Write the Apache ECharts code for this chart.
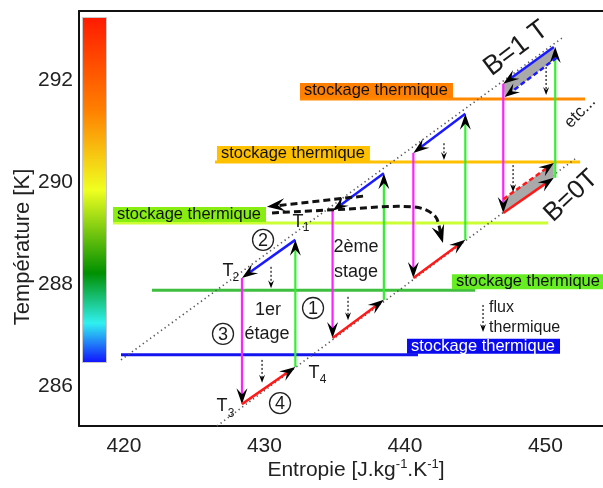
<!DOCTYPE html>
<html><head><meta charset="utf-8">
<script src="https://cdn.jsdelivr.net/npm/echarts@6/dist/echarts.min.js"></script>
<style>html,body{margin:0;padding:0;background:#fff}#c{width:603px;height:488px}</style>
</head><body><div id="c"></div>
<script>
// ---------- axes ----------
const xTicks = [420, 430, 440, 450];
const yTicks = [286, 288, 290, 292];
const xRange = [416.80, 454.10];
const yRange = [285.21, 293.37];

// ---------- AMR cycle segments [S1, T1, S2, T2] ----------
const redSeg = [
  [428.4, 285.64, 432.2, 286.37],
  [434.85, 286.94, 438.5, 287.69],
  [440.6, 288.12, 444.3, 288.87],
  [447.0, 289.40, 450.6, 290.09]
];
const greenSeg = [
  [432.2, 286.37, 432.2, 288.87],
  [438.5, 287.69, 438.5, 290.18],
  [444.3, 288.87, 444.3, 291.35],
  [450.7, 290.09, 450.7, 292.66]
];
const blueSeg = [
  [432.2, 288.87, 428.4, 288.12],
  [438.5, 290.18, 434.85, 289.44],
  [444.3, 291.35, 440.6, 290.58],
  [450.6, 292.66, 447.0, 291.94]
];
const magentaSeg = [
  [428.4, 288.12, 428.4, 285.64],
  [434.85, 289.44, 434.85, 286.94],
  [440.6, 290.58, 440.6, 288.12],
  [447.0, 291.94, 447.0, 289.40]
];
const blueDashSeg = [[450.8, 292.45, 447.1, 291.68]];
const redDashSeg = [[447.0, 289.67, 450.6, 290.38]];
const grayPolys = [
  [[447.0, 291.94], [450.6, 292.66], [450.8, 292.45], [447.1, 291.68]],
  [[447.0, 289.40], [450.6, 290.09], [450.6, 290.38], [447.0, 289.67]]
];

// isofield lines (B=1 T above, B=0 T below)
const isoLines = [
  [419.79, 286.51, 451.19, 292.84],
  [426.62, 285.21, 452.11, 290.46]
];

// thermal flux arrows
const fluxSeg = [
  [430.47, 288.34, 430.47, 287.92],
  [429.83, 286.51, 429.83, 286.06],
  [435.95, 287.75, 435.95, 287.29],
  [442.78, 290.77, 442.78, 290.44],
  [450.05, 292.27, 450.05, 291.72],
  [447.70, 290.34, 447.70, 289.81],
  [445.56, 287.59, 445.56, 287.06]
];

// heat transfer between stages (dashed)
const dashArrow = [[437.02, 289.73, 430.18, 289.52]];
const dashCurve = [[430.54, 289.40], [434.88, 289.46], [440.58, 289.52], [442.14, 289.34], [442.71, 288.81]];

// thermal storage levels: [S start, T, S end, S label]
const storeRows = [
  [419.79, 286.61, 440.93, 440.15],
  [421.99, 287.88, 444.99, 443.35],
  [419.22, 289.20, 450.19, 419.22],
  [426.48, 290.40, 452.47, 426.62],
  [432.53, 291.64, 452.82, 432.53]
];
const storeText = 'stockage thermique';

// annotations
const tPos = [[432.39, 289.23], [427.40, 288.26], [426.98, 285.60], [433.53, 286.25]];
const tSubPos = [[432.96, 289.10], [427.97, 288.12], [427.62, 285.46], [434.17, 286.13]];
const tSubs = ['1', '2', '3', '4'];
const circPos = [[433.46, 287.53], [429.90, 288.87], [427.05, 287.02], [431.11, 285.66]];
const circNums = ['1', '2', '3', '4'];
const stageTextPos = [[430.25, 287.49], [430.18, 287.02], [436.52, 288.73], [436.52, 288.24]];
const stageTexts = ['1er', 'étage', '2ème', 'stage'];
const fluxTextPos = [[445.99, 287.53], [445.99, 287.14]];
const fluxTexts = ['flux', 'thermique'];
const fieldTextPos = [[447.91, 292.63], [451.83, 289.73], [452.47, 291.38]];
const fieldTexts = ['B=1 T', 'B=0T', 'etc...'];

const FONT = '"Liberation Sans", Arial, Helvetica, sans-serif';
const chart = echarts.init(document.getElementById('c'));

function head(q, ux, uy, L, W, color) {
  const nx = -uy, ny = ux;
  const bx = q[0] - ux * L, by = q[1] - uy * L;
  return {
    type: 'polygon',
    shape: { points: [[q[0], q[1]], [bx + nx * W / 2, by + ny * W / 2], [q[0] - ux * L * 0.62, q[1] - uy * L * 0.62], [bx - nx * W / 2, by - ny * W / 2]] },
    style: { fill: color }
  };
}

function segSeries(data, color, width, dash, L, W, z) {
  return {
    type: 'custom', coordinateSystem: 'cartesian2d', silent: true, z: z || 3, clip: false,
    data: data,
    renderItem: function (params, api) {
      const p = api.coord([api.value(0), api.value(1)]);
      const q = api.coord([api.value(2), api.value(3)]);
      const dx = q[0] - p[0], dy = q[1] - p[1], len = Math.hypot(dx, dy) || 1;
      const ux = dx / len, uy = dy / len;
      const trim = L ? L * 0.5 : 0;
      const children = [{
        type: 'line',
        shape: { x1: p[0], y1: p[1], x2: q[0] - ux * trim, y2: q[1] - uy * trim },
        style: { stroke: color, lineWidth: width, lineDash: dash || 'solid', fill: null }
      }];
      if (L) children.push(head(q, ux, uy, L, W, '#000'));
      return { type: 'group', children: children };
    }
  };
}

function textSeries(pts, texts, font, opts) {
  opts = opts || {};
  return {
    type: 'custom', coordinateSystem: 'cartesian2d', silent: true, z: 8, clip: false,
    data: pts,
    renderItem: function (params, api) {
      const c = api.coord([api.value(0), api.value(1)]);
      const i = params.dataIndex;
      return {
        type: 'text', x: c[0], y: c[1],
        rotation: opts.rot ? opts.rot[i] : 0,
        style: { text: texts[i], font: font, fill: '#1a1a1a', align: opts.align || 'center', verticalAlign: 'middle' }
      };
    }
  };
}

const storeLine = ['#1414ee', '#3fbf3f', '#ccff33', '#ffc000', '#ff8a00'];
const storeBox = ['#0a0aee', '#66ee22', '#88ee11', '#ffc000', '#ff8000'];
const storeFg = ['#ffffff', '#111', '#111', '#111', '#111'];

const series = [];
// storage lines + labels
series.push({
  type: 'custom', coordinateSystem: 'cartesian2d', silent: true, z: 1, clip: false,
  data: storeRows,
  renderItem: function (params, api) {
    const i = params.dataIndex;
    const a = api.coord([api.value(0), api.value(1)]);
    const b = api.coord([api.value(2), api.value(1)]);
    const l = api.coord([api.value(3), api.value(1)]);
    return {
      type: 'group', children: [
        { type: 'line', shape: { x1: a[0], y1: a[1], x2: b[0], y2: b[1] }, style: { stroke: storeLine[i], lineWidth: 3 } },
        { type: 'text', x: l[0], y: l[1] - 1, style: {
          text: storeText, font: '16.5px ' + FONT, fill: storeFg[i], align: 'left', verticalAlign: 'bottom',
          backgroundColor: storeBox[i], padding: [0, 5, 0, 4], lineHeight: 15
        } }
      ]
    };
  }
});
// iso-field dotted lines
series.push(segSeries(isoLines, '#555', 1.6, [1.3, 3.2], 0, 0, 2));
// gray areas
series.push({
  type: 'custom', coordinateSystem: 'cartesian2d', silent: true, z: 2, clip: false,
  data: grayPolys.map(function (p, i) { return [p[0][0], p[0][1], i]; }),
  renderItem: function (params, api) {
    const poly = grayPolys[params.dataIndex].map(function (p) { return api.coord(p); });
    return { type: 'polygon', shape: { points: poly }, style: { fill: '#a9a9a9' } };
  }
});
// cycle
series.push(segSeries(greenSeg, '#33ee33', 2.2, null, 16, 11, 3));
series.push(segSeries(magentaSeg, '#ff22ff', 2.2, null, 16, 11, 3));
series.push(segSeries(redSeg, '#ff1a1a', 2.5, null, 16, 11, 4));
series.push(segSeries(blueSeg, '#1a1aff', 2.5, null, 16, 11, 4));
series.push(segSeries(redDashSeg, '#ff1a1a', 2.5, [5, 3], 15, 11, 4));
series.push(segSeries(blueDashSeg, '#1a1aff', 2.5, [5, 3], 15, 11, 4));
// flux
series.push(segSeries(fluxSeg, '#222', 1.3, [2, 2], 8, 6, 5));
// dashed straight arrow
series.push(segSeries(dashArrow, '#111', 3, [7, 4], 18, 13, 5));
// dashed curve
series.push({
  type: 'custom', coordinateSystem: 'cartesian2d', silent: true, z: 5, clip: false,
  data: dashCurve,
  renderItem: function (params, api) {
    if (params.dataIndex !== 0) return null;
    const pts = dashCurve.map(function (p) { return api.coord(p); });
    const n = pts.length;
    const q = pts[n - 1], p = pts[n - 2];
    const dx = q[0] - p[0], dy = q[1] - p[1], len = Math.hypot(dx, dy) || 1;
    const ux = dx / len, uy = dy / len;
    const trimmed = pts.slice(0, n - 1).concat([[q[0] - ux * 9, q[1] - uy * 9]]);
    return { type: 'group', children: [
      { type: 'polyline', shape: { points: trimmed, smooth: 0.35 }, style: { stroke: '#111', lineWidth: 3, lineDash: [7, 4], fill: null } },
      head(q, ux, uy, 18, 13, '#000')
    ] };
  }
});
// texts
series.push(textSeries(tPos, ['T', 'T', 'T', 'T'], '18px ' + FONT));
series.push(textSeries(tSubPos, tSubs, '12px ' + FONT));
series.push(textSeries(stageTextPos, stageTexts, '18px ' + FONT));
series.push(textSeries(fluxTextPos, fluxTexts, '16px ' + FONT, { align: 'left' }));
series.push(textSeries(fieldTextPos, fieldTexts, FONT, {}));
series[series.length - 1].renderItem = function (params, api) {
  const c = api.coord([api.value(0), api.value(1)]);
  const i = params.dataIndex;
  const sizes = [27, 26, 17];
  const rots = [37, 43, 46];
  return { type: 'text', x: c[0], y: c[1], rotation: rots[i] * Math.PI / 180,
    style: { text: fieldTexts[i], font: sizes[i] + 'px ' + FONT, fill: '#1a1a1a', align: 'center', verticalAlign: 'middle' } };
};
// circled numbers
series.push({
  type: 'custom', coordinateSystem: 'cartesian2d', silent: true, z: 8, clip: false,
  data: circPos,
  renderItem: function (params, api) {
    const c = api.coord([api.value(0), api.value(1)]);
    return { type: 'group', children: [
      { type: 'circle', shape: { cx: c[0], cy: c[1], r: 10.5 }, style: { fill: null, stroke: '#222', lineWidth: 1.3 } },
      { type: 'text', x: c[0], y: c[1] + 1, style: { text: circNums[params.dataIndex], font: '18px ' + FONT, fill: '#1a1a1a', align: 'center', verticalAlign: 'middle' } }
    ] };
  }
});

const axisLineStyle = { show: true, lineStyle: { color: '#111', width: 2 } };
chart.setOption({
  animation: false,
  backgroundColor: '#fff',
  grid: { left: 79, right: 0, top: 11, bottom: 62, show: false },
  xAxis: [{
    type: 'value', min: xRange[0], max: xRange[1], position: 'bottom',
    axisLine: axisLineStyle, axisTick: { show: false }, splitLine: { show: false },
    axisLabel: { customValues: xTicks, fontSize: 21, color: '#222', fontFamily: FONT, margin: 10 }
  }, {
    type: 'value', min: xRange[0], max: xRange[1], position: 'top',
    axisLine: axisLineStyle, axisTick: { show: false }, splitLine: { show: false }, axisLabel: { show: false }
  }],
  yAxis: {
    type: 'value', min: yRange[0], max: yRange[1],
    axisLine: axisLineStyle, axisTick: { show: false }, splitLine: { show: false },
    axisLabel: { customValues: yTicks, fontSize: 21, color: '#222', fontFamily: FONT, margin: 6 }
  },
  graphic: [
    { type: 'rect', left: 82, top: 17, shape: { width: 24, height: 345 }, z: 10,
      style: { stroke: '#c8c8c8', lineWidth: 1, fill: { type: 'linear', x: 0, y: 0, x2: 0, y2: 1, colorStops: [
        { offset: 0, color: '#ff1a00' }, { offset: 0.27, color: '#ff8000' }, { offset: 0.5, color: '#f0ff20' },
        { offset: 0.74, color: '#009000' }, { offset: 0.885, color: '#30f0f0' }, { offset: 1, color: '#1010ff' }] } } },
    { type: 'text', x: 23, y: 247, rotation: Math.PI / 2, z: 10,
      style: { text: 'Température [K]', font: '22px ' + FONT, fill: '#222', align: 'center', verticalAlign: 'middle' } },
    { type: 'text', x: 356, y: 470, z: 10,
      style: { text: 'Entropie [J.kg{s|-1}.K{s|-1}]', font: '21px ' + FONT, fill: '#222', align: 'center', verticalAlign: 'middle',
        rich: { s: { fontSize: 13, fontFamily: FONT, fill: '#222', padding: [0, 0, 12, 0] } } } }
  ],
  series: series
});
</script>
</body></html>
